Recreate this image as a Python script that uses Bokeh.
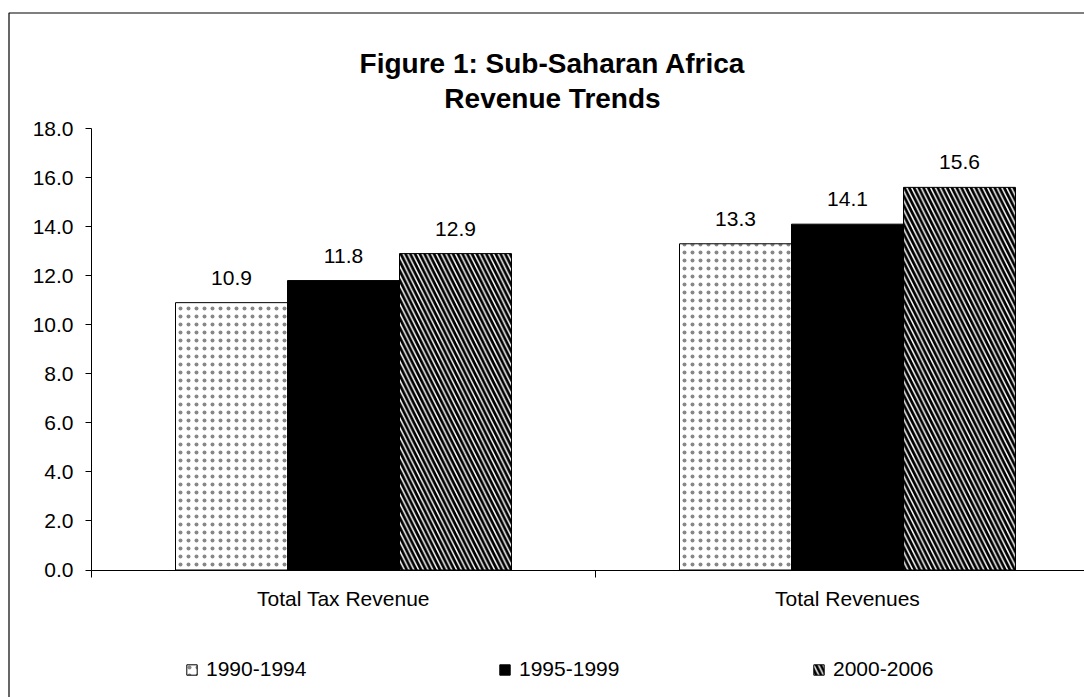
from bokeh.plotting import figure
from bokeh.models import (Range1d, FixedTicker, PrintfTickFormatter, ColumnDataSource,
                          LabelSet, Label, Legend, LegendItem, BoxAnnotation)
from bokeh.core.properties import value
from bokeh.embed import file_html
from bokeh.resources import INLINE

# ---- data -----------------------------------------------------------------
categories = ["Total Tax Revenue", "Total Revenues"]
periods = ["1990-1994", "1995-1999", "2000-2006"]
rev_1990_1994 = [10.9, 13.3]
rev_1995_1999 = [11.8, 14.1]
rev_2000_2006 = [12.9, 15.6]
y_ticks = [0, 2, 4, 6, 8, 10, 12, 14, 16, 18]
title_lines = ["Figure 1: Sub-Saharan Africa", "Revenue Trends"]

# ---- layout ---------------------------------------------------------------
# The frame fills the whole canvas; the axes sit at fixed data positions so
# that the title, legend and chart border can live inside the same frame.
FONT = "Liberation Sans"
TXT = "21px"
W, H = 1084, 697
AX_X, AX_TOP, AX_Y = 91, 128, 569.5      # plot-area corners on the canvas
CAT_PX = 504                             # pixel width of one category slot
CAT_UNITS = 2.0                          # data width of one category slot
Y_MAX = 18
px_x = CAT_PX / CAT_UNITS
px_y = (AX_Y - AX_TOP) / Y_MAX
x_range = Range1d(-AX_X / px_x, (W - AX_X) / px_x)
y_range = Range1d(-(H - AX_Y) / px_y, Y_MAX + AX_TOP / px_y)
bar_w = CAT_UNITS * (2.0 / 3.0) / 3.0

p = figure(width=W, height=H, output_backend="svg", toolbar_location=None,
           title=None, x_range=x_range, y_range=y_range,
           min_border=0, min_border_left=0, min_border_right=0,
           min_border_top=0, min_border_bottom=0)
p.outline_line_color = None
p.xgrid.visible = False
p.ygrid.visible = False
p.background_fill_color = "white"
p.border_fill_color = "white"

centers = [CAT_UNITS * i + CAT_UNITS / 2 for i in range(len(categories))]

styles = [
    dict(fill_color="white", hatch_pattern="dot", hatch_color="#555555",
         hatch_scale=8, hatch_weight=0.5, hatch_alpha=0.7),
    dict(fill_color="black"),
    dict(fill_color="white", hatch_pattern="left_diagonal_line", hatch_color="black",
         hatch_scale=9.5, hatch_weight=2.8),
]
series = [rev_1990_1994, rev_1995_1999, rev_2000_2006]
offsets = [-bar_w, 0.0, bar_w]

renderers = []
for vals, off, st in zip(series, offsets, styles):
    src = ColumnDataSource(dict(
        x=[c + off for c in centers],
        top=vals,
        label=["%.1f" % v for v in vals],
    ))
    r = p.vbar(x="x", top="top", bottom=0, width=bar_w, source=src,
               line_color="black", line_width=1, **st)
    renderers.append(r)
    p.add_layout(LabelSet(x="x", y="top", text="label", source=src,
                          text_align="center", text_baseline="alphabetic",
                          y_offset=18, text_font=value(FONT),
                          text_font_size=TXT, text_color="black"))

# ---- axes -----------------------------------------------------------------
xa = p.xaxis[0]
xa.fixed_location = 0
xa.bounds = (0, x_range.end)
xa.ticker = FixedTicker(ticks=[int(c) for c in centers],
                        minor_ticks=[int(CAT_UNITS * i) for i in range(len(categories) + 1)])
xa.major_label_overrides = {int(c): name for c, name in zip(centers, categories)}
xa.major_tick_out = 0
xa.major_tick_in = 0
xa.minor_tick_out = 7
xa.minor_tick_in = 0
xa.minor_tick_line_color = "black"
xa.axis_line_color = "black"
xa.major_label_standoff = 10
xa.major_label_text_font = FONT
xa.major_label_text_font_size = TXT
xa.major_label_text_color = "black"

ya = p.yaxis[0]
ya.fixed_location = 0
ya.bounds = (0, Y_MAX)
ya.ticker = FixedTicker(ticks=y_ticks, minor_ticks=[])
ya.formatter = PrintfTickFormatter(format="%.1f")
ya.major_tick_out = 6
ya.major_tick_in = 0
ya.major_tick_line_color = "black"
ya.minor_tick_line_color = None
ya.axis_line_color = "black"
ya.major_label_standoff = 12
ya.major_label_text_font = FONT
ya.major_label_text_font_size = TXT
ya.major_label_text_color = "black"

# ---- title ----------------------------------------------------------------
title_cx = 552
for line, base in zip(title_lines, [63, 98]):
    p.add_layout(Label(x=title_cx, y=H - base, x_units="screen", y_units="screen",
                       text=line, text_align="center", text_baseline="alphabetic",
                       text_font=FONT, text_font_size="28px",
                       text_font_style="bold", text_color="black"))

# ---- legend ---------------------------------------------------------------
legend_x = [185, 498, 812]
legend_center_y = 670
for name, r, lx in zip(periods, renderers, legend_x):
    leg = Legend(items=[LegendItem(label=value(name), renderers=[r])],
                 location=(lx, H - legend_center_y - 11),
                 orientation="horizontal", padding=0, margin=0, spacing=0,
                 glyph_width=13, glyph_height=13, label_standoff=8,
                 label_height=22,
                 label_text_font=FONT, label_text_font_size=TXT,
                 label_text_color="black", label_text_baseline="middle",
                 border_line_color=None, background_fill_alpha=0)
    p.add_layout(leg)

# ---- chart-area border ----------------------------------------------------
p.add_layout(BoxAnnotation(left=8.5, right=3000, top=12.5, bottom=3000,
                           left_units="canvas", right_units="canvas",
                           top_units="canvas", bottom_units="canvas",
                           fill_alpha=0, line_color="black", line_width=1.2,
                           line_alpha=1))

open("out.html", "w").write(file_html(p, INLINE))
